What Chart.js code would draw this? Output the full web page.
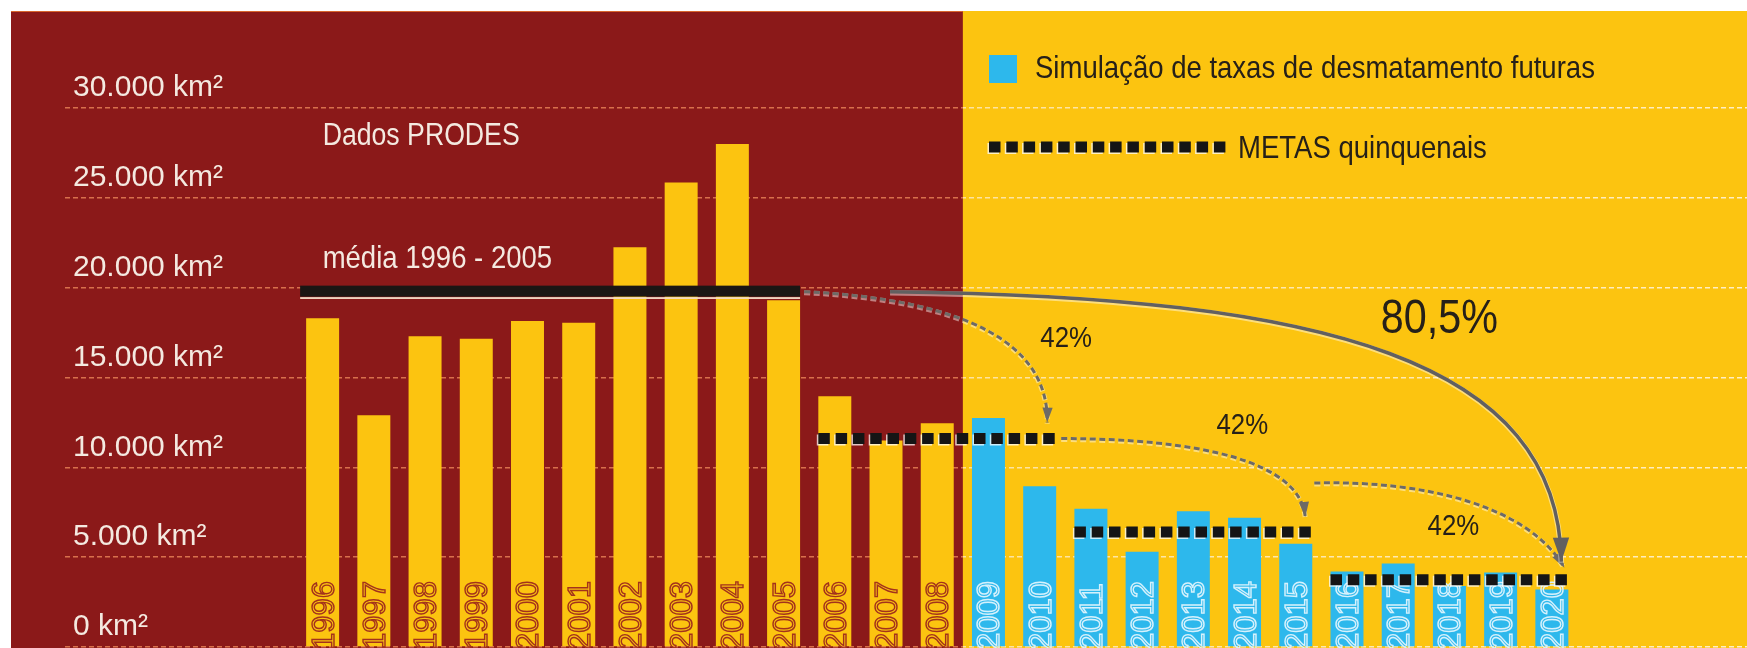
<!DOCTYPE html>
<html>
<head>
<meta charset="utf-8">
<title>Desmatamento na Amazônia - metas quinquenais</title>
<script src="https://cdn.jsdelivr.net/npm/chart.js@4"></script>
<style>
  html, body { margin: 0; padding: 0; background: #fff; }
  canvas { display: block; }
</style>
</head>
<body>
<canvas id="desmatChart" width="1747" height="648"></canvas>
<script>
// dados PRODES (km2 por ano)
const prodesYears = [1996, 1997, 1998, 1999, 2000, 2001, 2002, 2003, 2004, 2005, 2006, 2007, 2008];
const prodesArea = [18300, 12900, 17300, 17150, 18150, 18050, 22250, 25850, 28000, 19300, 13950, 11500, 12450];

// simulação de taxas futuras
const simYears = [2009, 2010, 2011, 2012, 2013, 2014, 2015, 2016, 2017, 2018, 2019, 2020];
const simArea = [12750, 8950, 7700, 5300, 7550, 7200, 5750, 4200, 4650, 3400, 4150, 3200];

const yTicks = [0, 5000, 10000, 15000, 20000, 25000, 30000];

// média 1996 - 2005
const mediaPeriod = [1996, 2005];
const mediaValue = 19500;

// metas quinquenais
const metaStart = [2006, 2011, 2016];
const metaEnd = [2010, 2015, 2020];
const metaValue = [11600, 6400, 3750];

const FONT = "'Liberation Sans', Arial, sans-serif";
const NARROW = 0.86; // largura condensada para os textos
const RED = "#8b1919";
const YELLOW = "#fcc410";
const BLUE = "#2db8ec";
const DARK = "#262019";

function fmt(v) {
  return String(v).replace(/\B(?=(\d{3})+(?!\d))/g, ".");
}

function panelEdge(chart) {
  const x = chart.scales.x;
  return (x.getPixelForValue(prodesYears[prodesYears.length - 1]) + x.getPixelForValue(simYears[0])) / 2;
}

function barHalf(chart) {
  const bar = chart.getDatasetMeta(0).data[0];
  return bar ? bar.width / 2 : 16;
}

function gridColor(context) {
  const chart = context.chart;
  if (!chart.chartArea || !chart.scales.x) return "#d8704c";
  const f = panelEdge(chart) / chart.width;
  const g = chart.ctx.createLinearGradient(0, 0, chart.width, 0);
  g.addColorStop(0, "#d8704c");
  g.addColorStop(f, "#d8704c");
  g.addColorStop(f, "#fde3a0");
  g.addColorStop(1, "#ffefc4");
  return g;
}

function squareLine(ctx, x1, x2, y) {
  ctx.save();
  ctx.lineWidth = 11;
  ctx.setLineDash([11.5, 5.8]);
  ctx.strokeStyle = "rgba(255,255,255,0.75)";
  ctx.beginPath();
  ctx.moveTo(x1 - 1.5, y + 1.5);
  ctx.lineTo(x2 - 1.5, y + 1.5);
  ctx.stroke();
  ctx.strokeStyle = "#151515";
  ctx.beginPath();
  ctx.moveTo(x1, y);
  ctx.lineTo(x2, y);
  ctx.stroke();
  ctx.restore();
}

function curveArrow(ctx, p0, p1, p2, p3, o) {
  ctx.save();
  ctx.lineCap = "butt";
  ctx.setLineDash(o.dash || []);
  ctx.strokeStyle = "rgba(255,255,255,0.45)";
  ctx.lineWidth = o.width + 2;
  ctx.beginPath();
  ctx.moveTo(p0.x, p0.y + 1);
  ctx.bezierCurveTo(p1.x, p1.y + 1, p2.x, p2.y + 1, p3.x, p3.y + 1);
  ctx.stroke();
  ctx.strokeStyle = o.color;
  ctx.lineWidth = o.width;
  ctx.beginPath();
  ctx.moveTo(p0.x, p0.y);
  ctx.bezierCurveTo(p1.x, p1.y, p2.x, p2.y, p3.x, p3.y);
  ctx.stroke();
  // ponta da seta
  ctx.setLineDash([]);
  const ang = Math.atan2(p3.y - p2.y, p3.x - p2.x);
  ctx.translate(p3.x, p3.y);
  ctx.rotate(ang);
  ctx.fillStyle = o.color;
  ctx.beginPath();
  ctx.moveTo(0, 0);
  ctx.lineTo(-o.head, -o.head * 0.34);
  ctx.lineTo(-o.head, o.head * 0.34);
  ctx.closePath();
  ctx.fill();
  ctx.restore();
}

function text(ctx, str, x, y, size, color, align) {
  ctx.save();
  ctx.font = size + "px " + FONT;
  ctx.fillStyle = color;
  ctx.textAlign = align || "left";
  ctx.textBaseline = "alphabetic";
  ctx.translate(x, y);
  ctx.scale(NARROW, 1);
  ctx.fillText(str, 0, 0);
  ctx.restore();
}

const backgroundPlugin = {
  id: "panels",
  beforeDraw(chart) {
    const { ctx, width, height } = chart;
    const edge = panelEdge(chart);
    ctx.save();
    ctx.fillStyle = "#fff";
    ctx.fillRect(0, 0, width, height);
    ctx.fillStyle = YELLOW;
    ctx.fillRect(11, 11, width - 11, height - 11);
    ctx.fillStyle = RED;
    ctx.fillRect(11, 11, edge - 11, height - 11);
    ctx.fillStyle = "#d9662e";
    ctx.fillRect(11, 11, edge - 11, 1);
    ctx.restore();
  }
};

const annotationPlugin = {
  id: "annotations",
  afterDatasetsDraw(chart) {
    const { ctx } = chart;
    const x = chart.scales.x;
    const y = chart.scales.y;
    const half = barHalf(chart);

    // rótulos dos anos dentro das barras
    [0, 1].forEach(di => {
      const years = di === 0 ? prodesYears : simYears;
      chart.getDatasetMeta(di).data.forEach((bar, i) => {
        ctx.save();
        ctx.translate(bar.x + 11, chart.chartArea.bottom + 3);
        ctx.rotate(-Math.PI / 2);
        ctx.font = "31px " + FONT;
        ctx.textAlign = "left";
        ctx.strokeStyle = di === 0 ? "#a3321c" : "#d6f1fc";
        ctx.lineWidth = 1.4;
        ctx.strokeText(String(years[i]), 0, 0);
        ctx.restore();
      });
    });

    // média 1996 - 2005
    const ms = x.getPixelForValue(mediaPeriod[0]) - half - 6;
    const me = x.getPixelForValue(mediaPeriod[1]) + half;
    const my = y.getPixelForValue(mediaValue);
    ctx.fillStyle = "#1b1614";
    ctx.fillRect(ms, my - 11, me - ms, 11);
    ctx.fillStyle = "#f3dcc8";
    ctx.fillRect(ms, my + 0.5, me - ms, 1.8);

    // metas
    const ends = metaStart.map((s, i) => {
      const x1 = x.getPixelForValue(s) - half;
      const x2 = x.getPixelForValue(metaEnd[i]) + half;
      const yy = y.getPixelForValue(metaValue[i]);
      squareLine(ctx, x1, x2, yy);
      return { x: x2, y: yy };
    });

    // setas
    const A = { x: me, y: my - 5 };
    const dashed = { color: "#6d6a66", width: 3, dash: [6, 3.5], head: 15 };
    let p0 = { x: A.x + 4, y: A.y };
    let p3 = { x: ends[0].x - 9, y: ends[0].y - 16 };
    curveArrow(ctx, p0, { x: p0.x + 160, y: p0.y + 8 }, { x: p3.x + 2, y: p3.y - 80 }, p3, dashed);

    p0 = { x: ends[0].x + 5, y: ends[0].y };
    p3 = { x: ends[1].x - 7, y: ends[1].y - 15 };
    curveArrow(ctx, p0, { x: p0.x + 140, y: p0.y }, { x: p3.x - 5, y: p3.y - 55 }, p3, dashed);

    p0 = { x: ends[1].x + 2, y: ends[1].y - 49 };
    p3 = { x: ends[2].x - 4, y: ends[2].y - 12 };
    curveArrow(ctx, p0, { x: p0.x + 115, y: p0.y - 3 }, { x: p3.x - 35, y: p3.y - 60 }, p3, dashed);

    p0 = { x: A.x + 90, y: A.y };
    p3 = { x: ends[2].x - 7, y: ends[2].y - 18 };
    curveArrow(ctx, p0, { x: p0.x + 440, y: p0.y + 5 }, { x: p3.x - 3, y: p3.y - 200 }, p3,
      { color: "#626060", width: 3.5, head: 24 });

    text(ctx, "42%", ends[0].x + 10, ends[0].y - 92, 30, DARK, "center");
    text(ctx, "42%", ends[1].x - 70, ends[1].y - 98, 30, DARK, "center");
    text(ctx, "42%", ends[2].x - 115, ends[2].y - 45, 30, DARK, "center");
    text(ctx, "80,5%", ends[2].x - 129, ends[2].y - 247, 48, DARK, "center");

    // textos do painel vermelho
    const tx = x.getPixelForValue(prodesYears[0]);
    text(ctx, "Dados PRODES", tx, 145, 31, "#f4e9e0");
    text(ctx, "média 1996 - 2005", tx, my - 29, 32, "#f4e9e0");

    // legenda
    ctx.fillStyle = BLUE;
    ctx.fillRect(989, 55, 28, 28);
    text(ctx, "Simulação de taxas de desmatamento futuras", 1035, 78, 32, DARK);
    squareLine(ctx, 989, 1227, 147);
    text(ctx, "METAS quinquenais", 1238, 158, 32, DARK);
  }
};

new Chart(document.getElementById("desmatChart").getContext("2d"), {
  type: "bar",
  data: {
    datasets: [
      {
        label: "Dados PRODES",
        data: prodesYears.map((yr, i) => ({ x: yr, y: prodesArea[i] })),
        backgroundColor: YELLOW,
        grouped: false,
        barPercentage: 0.805
      },
      {
        label: "Simulação de taxas de desmatamento futuras",
        data: simYears.map((yr, i) => ({ x: yr, y: simArea[i] })),
        backgroundColor: BLUE,
        grouped: false,
        barPercentage: 0.805
      }
    ]
  },
  options: {
    responsive: false,
    animation: false,
    layout: { padding: { left: 49, right: 0, top: 108, bottom: 1 } },
    plugins: {
      legend: { display: false },
      tooltip: { enabled: false }
    },
    scales: {
      x: {
        type: "linear",
        min: 1990.97,
        max: 2023.81,
        offset: false,
        display: false,
        afterBuildTicks(scale) {
          scale.ticks = prodesYears.concat(simYears).map(v => ({ value: v }));
        }
      },
      y: {
        min: 0,
        max: 30000,
        afterBuildTicks(scale) {
          scale.ticks = yTicks.map(v => ({ value: v }));
        },
        afterFit(scale) {
          scale.paddingTop = 0;
          scale.paddingBottom = 0;
        },
        border: { display: false, dash: [5, 3] },
        grid: { drawTicks: false, color: gridColor, lineWidth: 1.5 },
        ticks: {
          mirror: true,
          padding: 8,
          labelOffset: -20,
          color: "#f4e9e0",
          font: { family: FONT, size: 30 },
          callback: v => fmt(v) + " km²"
        }
      }
    }
  },
  plugins: [backgroundPlugin, annotationPlugin]
});
</script>
</body>
</html>
